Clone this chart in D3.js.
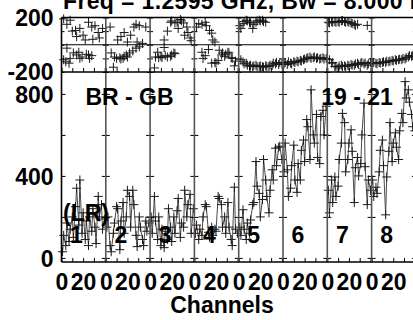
<!DOCTYPE html>
<html><head><meta charset="utf-8">
<script src="https://cdn.jsdelivr.net/npm/d3@7"></script>
<style>
body{margin:0;background:#fff;}
svg{display:block;}
text{font-family:"Liberation Sans",Arial,sans-serif;font-weight:bold;}
</style>
</head><body>
<svg id="c" width="413" height="320"></svg>
<script>
// ---------------- data ----------------
const channels = [1,2,4,5,7,8,10,11,13,14,16,17,19,20,22,23,25,26,28,29,31,32,34,35,37,38,40];
const panelNames = ["1","2","3","4","5","6","7","8"];
const ampTickLabels = [0,400,800];
const ampTicks = [0,200,400,600,800];
const phaseTickLabels = [-200,200];
const phaseTicks = [-200,-100,0,100,200];
const chanTickLabels = [0,20];
const chanTicks = [0,10,20,30,40];
const titleText = "Freq = 1.2595 GHz, Bw = 8.000 MHz";
const xTitle = "Channels";
const baselineLabel = "BR - GB";
const rangeLabel = "19 - 21";
const polLabel = "(LR)";

const amp1 = [30,110,60,170,80,140,200,100,250,340,160,380,120,220,90,180,60,200,130,240,150,70,300,200,260,140,190];
const amp2 = [150,200,60,30,120,170,250,240,40,180,270,120,200,330,300,150,330,260,110,55,200,150,90,60,180,130,170];
const amp3 = [200,120,300,180,90,200,60,140,50,130,90,240,150,80,200,120,230,290,100,170,150,330,200,260,310,120,240];
const amp4 = [120,160,90,140,110,200,260,250,125,100,150,110,140,130,300,290,260,150,200,120,270,150,90,60,345,140,120];
const amp5 = [150,110,235,140,90,170,120,185,260,270,470,350,315,200,285,480,380,300,220,330,430,380,535,450,540,545,480];
const amp6 = [420,560,430,300,340,450,550,380,320,460,380,525,575,470,675,640,480,820,600,560,700,490,460,690,720,600,740];
const amp7 = [330,220,380,270,395,300,350,480,560,705,660,420,480,560,625,520,270,440,490,400,460,600,755,445,260,380,330];
const amp8 = [380,300,345,315,420,525,575,450,210,395,520,660,470,560,610,540,480,620,705,660,860,780,820,760,700,640,620];

const ph1A = [null,190,null,150,null,180,100,null,105,60,null,120,null,70,35,null,165,null,130,40,140,null,90,50,null,120,null];
const ph1B = [null,-110,-125,-25,-135,-100,null,-60,null,-75,-55,-100,-90,null,null,-70,-75,-100,-80,null,null,null,null,null,null,null,null];
const ph2A = [null,null,130,null,null,null,null,35,null,60,null,90,null,20,null,70,null,130,150,20,140,null,10,null,130,null,null];
const ph2B = [null,null,null,-60,-165,-90,-100,null,-95,-105,-100,-85,-75,-90,-60,null,-45,null,-25,null,-15,null,null,null,null,null,null];
const ph3A = [null,null,null,null,null,null,null,null,35,null,100,null,165,175,null,160,165,120,185,175,160,70,130,90,50,30,null];
const ph3B = [null,null,-170,-90,-55,-95,-85,-95,-20,-80,-90,null,-85,-75,-60,-65,null,null,null,null,null,null,null,null,null,null,null];
const ph4A = [null,130,155,null,150,null,165,140,null,105,85,35,20,null,null,null,null,null,null,null,null,null,null,null,null,null,null];
const ph4B = [null,null,null,null,-55,-100,-80,null,-35,null,-135,null,-130,-135,-115,-40,-75,-60,-85,-70,-55,-60,-95,-100,-155,-120,null];
const ph5A = [140,120,155,170,180,175,165,160,120,150,165,175,180,175,180,170,165,null,null,null,null,null,null,null,null,null,null];
const ph5B = [null,-110,-125,-140,-135,-150,-155,-150,-160,-155,-150,-160,-160,-155,-160,-165,-155,-160,-160,-150,-150,-135,-140,-130,-145,-130,-140];
const ph6A = [];
const ph6B = [-140,-130,-145,-125,-135,-140,-125,-130,-120,-125,-115,-120,-110,-105,-100,-95,-90,-100,-95,-90,-100,-95,-105,-100,-95,-105,-100];
const ph7A = [165,160,170,165,170,165,170,165,175,178,170,165,170,165,160,155,150,142,150,null,null,null,null,null,142,null,null];
const ph7B = [null,-110,-135,-130,-160,-160,-170,-155,-150,-160,-155,-160,-150,-155,-145,-150,-150,-140,-135,-145,-135,-130,-140,-135,-150,-140,-130];
const ph8A = [];
const ph8B = [-135,-130,-135,-140,-130,-135,-130,-125,-130,-120,-125,-120,-115,-120,-110,-115,-110,-105,-110,-100,-105,-95,-90,-80,-85,-80,-90];

const ampPanels = [amp1,amp2,amp3,amp4,amp5,amp6,amp7,amp8];
const phAPanels = [ph1A,ph2A,ph3A,ph4A,ph5A,ph6A,ph7A,ph8A];
const phBPanels = [ph1B,ph2B,ph3B,ph4B,ph5B,ph6B,ph7B,ph8B];

// ---------------- layout ----------------
(function(){
const svg = d3.select("#c");
const pL = 61.5, pw = 44.3, pT = 17.5, pM = 72, pB = 262;
const fs = 23;
const yAmp = d3.scaleLinear().domain([-20, 907]).range([pB, pM]);
const yPh = d3.scaleLinear().domain([-200, 200]).range([pM, pT]);
const xs = d3.scaleLinear().domain([0, 41]).range([0, pw]);
const cross = "M-4.5,0H4.5M0,-4.5V4.5";
const fmt = d => String(d).replace("\u2212", "-");

function styleAxis(g, dy){
  g.select(".domain").remove();
  g.selectAll("line").attr("stroke","#000").attr("stroke-width",1);
  const t = g.selectAll("text").attr("font-size",fs).attr("fill","#000")
    .attr("font-family","'Liberation Sans',Arial,sans-serif").attr("font-weight","bold");
  if (dy) t.attr("dy", dy);
}

panelNames.forEach((name, i) => {
  const g = svg.append("g").attr("transform", `translate(${pL + i*pw},0)`);

  [phAPanels[i], phBPanels[i]].forEach(arr => {
    g.selectAll(null)
      .data(arr.map((v,j)=>({c:channels[j], v})).filter(d=>d.v!=null))
      .enter().append("path")
      .attr("d", cross)
      .attr("transform", d=>`translate(${xs(d.c)},${yPh(d.v)})`)
      .attr("stroke","#1a1a1a").attr("stroke-width",1).attr("fill","none");
  });

  const amp = ampPanels[i];
  const line = d3.line().defined(d=>d!=null).x((d,j)=>xs(channels[j])).y(d=>yAmp(d));
  g.append("path").datum(amp).attr("d", line)
    .attr("fill","none").attr("stroke","#4a4a4a").attr("stroke-width",1);
  g.selectAll(null).data(amp.map((v,j)=>({c:channels[j], v}))).enter().append("path")
    .attr("d", cross)
    .attr("transform", d=>`translate(${xs(d.c)},${yAmp(d.v)})`)
    .attr("stroke","#1a1a1a").attr("stroke-width",1).attr("fill","none");

  g.append("g").attr("transform",`translate(0,${pB})`)
    .call(d3.axisBottom(xs).tickValues(chanTicks).tickSize(-4).tickPadding(12)
      .tickFormat(d => chanTickLabels.includes(d) ? fmt(d) : ""))
    .call(styleAxis);
  g.append("g").attr("transform",`translate(0,${pM})`)
    .call(d3.axisBottom(xs).tickValues(chanTicks).tickSize(-4).tickFormat(""))
    .call(styleAxis);
  g.append("g")
    .call(d3.axisLeft(yAmp).tickValues(ampTicks).tickSize(-4).tickPadding(8)
      .tickFormat(d => (i===0 && ampTickLabels.includes(d)) ? fmt(d) : ""))
    .call(g2 => styleAxis(g2, "0.38em"));
  g.append("g").attr("transform",`translate(${pw},0)`)
    .call(d3.axisRight(yAmp).tickValues(ampTicks).tickSize(-4).tickFormat(""))
    .call(styleAxis);
  g.append("g")
    .call(d3.axisLeft(yPh).tickValues(phaseTicks).tickSize(-3).tickPadding(8)
      .tickFormat(d => (i===0 && phaseTickLabels.includes(d)) ? fmt(d) : ""))
    .call(g2 => styleAxis(g2, "0.34em"));
  g.append("g").attr("transform",`translate(${pw},0)`)
    .call(d3.axisRight(yPh).tickValues(phaseTicks).tickSize(-3).tickFormat(""))
    .call(styleAxis);

  g.append("text").attr("x", 15).attr("y", 243).attr("text-anchor","middle")
    .attr("font-size", fs).attr("fill","#000").text(name);
});

for (let i = 1; i < panelNames.length; i++) {
  const x = pL + i*pw;
  svg.append("line").attr("x1",x).attr("x2",x).attr("y1",pT).attr("y2",pB)
    .attr("stroke","#555").attr("stroke-width",1.6);
}
const pR = pL + panelNames.length*pw;
svg.append("line").attr("x1",pL).attr("x2",pL).attr("y1",pT).attr("y2",pB).attr("stroke","#000").attr("stroke-width",1.6);
[pT, pM, pB].forEach(y => svg.append("line").attr("x1",pL).attr("x2",pR).attr("y1",y).attr("y2",y).attr("stroke","#000").attr("stroke-width",1.4));
svg.append("line").attr("x1",pL).attr("x2",pR).attr("y1",yPh(0)).attr("y2",yPh(0)).attr("stroke","#000").attr("stroke-width",1);

svg.append("text").attr("x",63).attr("y",8.5).attr("font-size",fs).attr("letter-spacing",0.35).attr("fill","#000").text(titleText);
svg.append("text").attr("x",222).attr("y",313).attr("text-anchor","middle").attr("font-size",fs).attr("fill","#000").text(xTitle);
svg.append("text").attr("x",129.5).attr("y",105).attr("text-anchor","middle").attr("font-size",fs).attr("fill","#000").text(baselineLabel);
svg.append("text").attr("x",357).attr("y",105).attr("text-anchor","middle").attr("font-size",fs).attr("fill","#000").text(rangeLabel);
svg.append("text").attr("x",63).attr("y",221).attr("font-size",fs).attr("fill","#000").text(polLabel);
})();
</script>
</body></html>
